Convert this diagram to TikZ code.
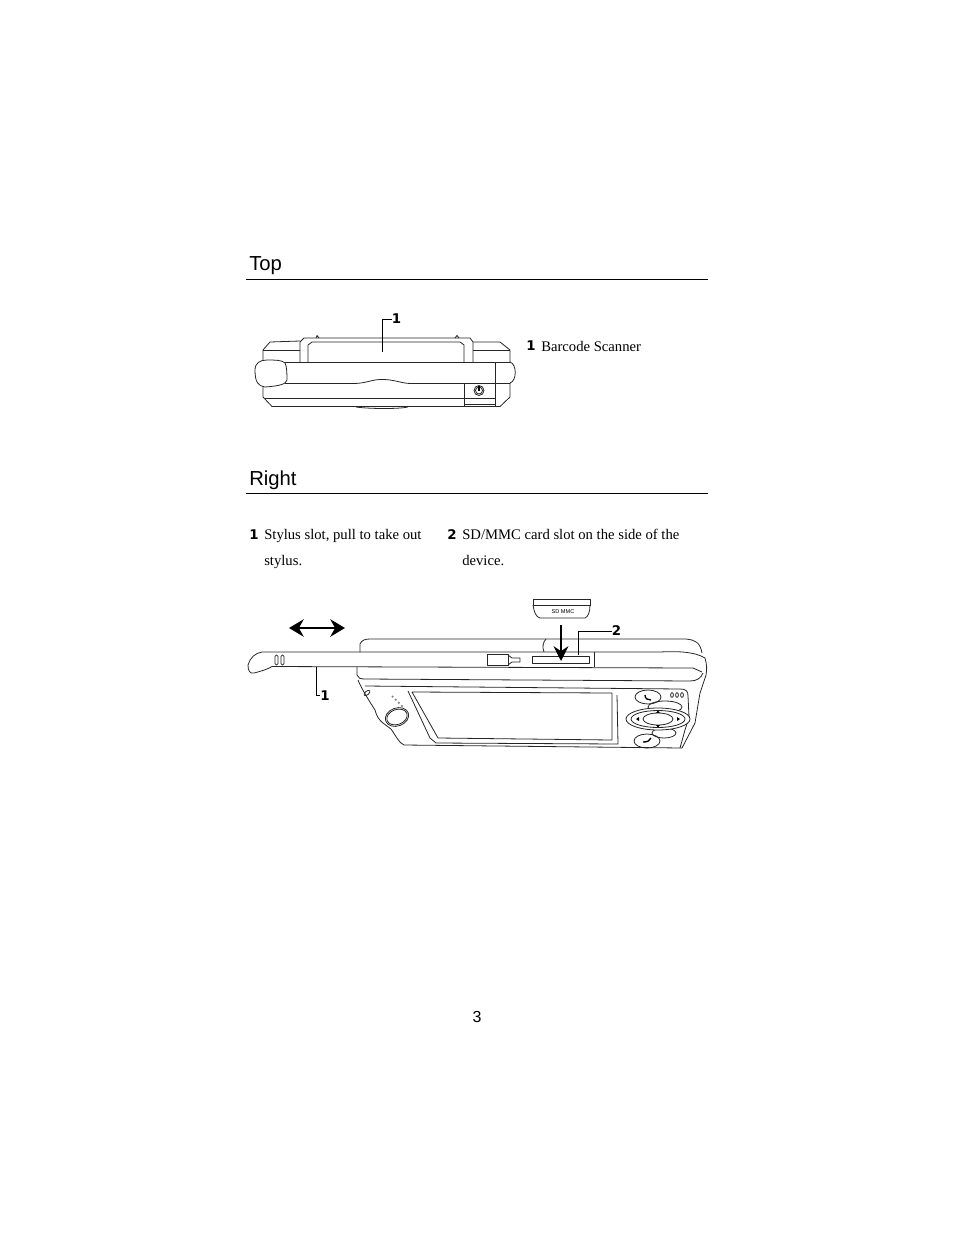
\documentclass[tikz,border=0pt]{standalone}
\usepackage{fontspec}
\setmainfont{Liberation Serif}
\setsansfont{Liberation Sans}
\newfontfamily\tagfont{DejaVu Sans}
\usetikzlibrary{arrows.meta}
\tikzset{
  heading/.style={anchor=base west,inner sep=0pt,font=\sffamily\fontsize{15.2}{16}\selectfont},
  bodytext/.style={anchor=base west,inner sep=0pt,font=\fontsize{11}{13}\selectfont},
  numtag/.style={inner sep=0pt,font=\tagfont\bfseries\fontsize{10}{12}\selectfont},
  devline/.style={line width=0.6pt,line join=round,black!85},
  leader/.style={line width=0.6pt},
  moveArrow/.style={line width=2pt,{Stealth[length=11pt,width=13pt]}-{Stealth[length=11pt,width=13pt]}}
}
\begin{document}
\begin{tikzpicture}[x=0.75pt,y=-0.75pt]
\useasboundingbox (0,0) rectangle (954,1235);
% HEADINGS AND RULES
\node [heading] (top) at (249,270.5) {Top};
\draw [line width=0.6pt] (246,279.5) -- (708,279.5);
\node [heading] (right) at (249,485) {Right};
\draw [line width=0.6pt] (246,493.5) -- (708,493.5);
% TOP VIEW: BACK OF BODY
\draw [devline] (263,362) -- (263,350) -- (270,342) -- (300,341);
\draw [devline] (263,350) -- (300,350);
\draw [devline] (473,342) -- (500,342) -- (510,350) -- (510,362);
\draw [devline] (473,350) -- (510,350);
% TOP VIEW: SCANNER
\draw [devline] (300,362) -- (300,342) -- (304,338) -- (470,338) -- (473,342) -- (473,362);
\draw [devline] (308,362) -- (308,345) -- (312,342) -- (460,342) -- (464,345) -- (464,362);
\draw [devline] (316,338) -- (317,335.5) -- (319,338);
\draw [devline] (455,338) -- (457,335.5) -- (459,338);
% TOP VIEW: STYLUS BAND
\draw [devline] (285,362) -- (510,362);
\draw [devline] (285,383.5) -- (355,383.5) .. controls (368,383) and (372,379) .. (384,379.5) .. controls (396,380) and (400,383) .. (410,383.5) -- (510,383.5);
\draw [devline,fill=white] (255,370) .. controls (255,363) and (260,360) .. (267,360) .. controls (275,360) and (282,360) .. (285,363) .. controls (287,366) and (287,376) .. (287,380) .. controls (286,384) and (280,386) .. (265,387) .. controls (258,386) and (255,382) .. (255,370) -- cycle;
\draw [devline] (495,362) -- (495,383);
\draw [devline] (510,362) .. controls (517,364) and (517,381) .. (510,383);
% TOP VIEW: LOWER BODY
\draw [devline] (263,386) -- (263,397) -- (272,406.5) -- (500,406.5) -- (510,397) -- (510,383);
\draw [devline] (265,398) -- (495,398);
\draw [devline] (356,407) .. controls (370,409) and (400,409) .. (408,407);
% TOP VIEW: POWER SWITCH
\draw [devline] (464,383.5) -- (464,406.5);
\draw [devline] (495,383.5) -- (495,406.5);
\draw [devline] (464,404) -- (495,404);
\draw [devline] (479,390.5) circle [radius=5];
\draw [devline] (479,390.5) circle [radius=3.5];
\draw [line width=0.8pt] (479,385.5) -- (479,390.5);
% TOP VIEW: CALLOUT
\coordinate (scanPt) at (382,352);
\node [numtag] (scanNum) at (396.5,319) {1};
\draw [leader] (scanPt) |- (scanNum.west);
\node [numtag] (scanTag) at (531,346) {1};
\node [bodytext] (scanText) at (541,351) {Barcode Scanner};
% RIGHT VIEW: TEXT
\node [numtag] (slotTag) at (254,535) {1};
\node [bodytext] (slotTextA) at (264,539) {Stylus slot, pull to take out};
\node [bodytext] (slotTextB) at (264,565) {stylus.};
\node [numtag] (cardTag) at (452,535) {2};
\node [bodytext] (cardTextA) at (462,539) {SD/MMC card slot on the side of the};
\node [bodytext] (cardTextB) at (462,565) {device.};
% RIGHT VIEW: STYLUS
\draw [devline] (360,652) -- (290,652) -- (262,652) .. controls (255,653) and (250,658) .. (248,665) .. controls (248,671) and (250,674) .. (254,673) .. controls (262,671) and (268,669) .. (272,666.5) -- (693,668);
\draw [devline] (360,652) -- (660,652) .. controls (680,651) and (695,652) .. (705,658);
\draw [devline,rounded corners=1pt] (275,655) rectangle (278,665);
\draw [devline,rounded corners=1pt] (281,655) rectangle (284,665);
\draw [devline] (487,654) rectangle (508,665);
\draw [devline] (508,655) -- (512,658) -- (520,658) -- (520,662) -- (512,662) -- (508,665);
% RIGHT VIEW: TOP OF BODY
\draw [devline] (360,652) -- (360,644) .. controls (362,640) and (365,639) .. (370,639) -- (686,639) .. controls (695,640) and (700,642) .. (702,653);
\draw [devline] (544,652) .. controls (542,647) and (543,642) .. (546,639);
\draw [devline] (532,656) rectangle (589,663);
\draw [devline] (594,652) -- (594,667);
\draw [devline] (693,668) -- (702,672);
% RIGHT VIEW: OUTLINE OF BODY
\draw [devline] (705,658) .. controls (707,665) and (707,670) .. (706,675) -- (700,693) -- (695,723) -- (682,748);
\draw [devline] (357,667) -- (357,675) .. controls (358,678) and (360,679) .. (365,679) -- (690,681) .. controls (697,681) and (701,678) .. (703,673);
\draw [devline] (358,680) .. controls (362,690) and (370,702) .. (375,710) .. controls (378,722) and (385,724) .. (391,729) .. controls (396,736) and (399,743) .. (404,745) -- (682,748);
% RIGHT VIEW: FRONT PANEL
\draw [devline] (365,686) -- (680,689) .. controls (686,689) and (688,691) .. (688,696) -- (689,717) -- (685,730) -- (680,748);
\draw [devline] (408,691) -- (430,738) -- (436,743) -- (618,744) -- (617,695);
\draw [devline] (412,692) -- (612,693) -- (612,740) -- (438,738) -- cycle;
\draw [devline] (397,717) ellipse [x radius=12,y radius=9,rotate=20];
\draw [devline] (397,717) ellipse [x radius=10.5,y radius=7.5,rotate=20];
\draw [devline] (367,693) ellipse [x radius=3.5,y radius=1.8,rotate=40];
\draw [line width=1.3pt,gray,dotted] (392,696) -- (404,708);
% RIGHT VIEW: BUTTONS
\draw [devline] (648,697) ellipse [x radius=13,y radius=7];
\draw [line width=1pt] (645,695) .. controls (645,699) and (648,700) .. (651,700);
\draw [devline] (647,741) ellipse [x radius=13,y radius=7];
\draw [line width=1pt] (643,742) .. controls (647,742) and (650,741) .. (651,738);
\foreach \dotx in {672,677,682}
  \draw [devline] (\dotx,695) ellipse [x radius=1.4,y radius=2.4];
\draw [devline] (665,707) ellipse [x radius=17,y radius=6];
\draw [devline] (664,733) ellipse [x radius=12,y radius=5];
\draw [devline,fill=white] (658,719) ellipse [x radius=32,y radius=11];
\draw [devline] (658,719) ellipse [x radius=27,y radius=8.5];
\draw [devline] (658,719) ellipse [x radius=15,y radius=6];
\fill (658,710.5) -- (656,713) -- (660,713) -- cycle;
\fill (658,727.5) -- (656,725) -- (660,725) -- cycle;
\fill (636,719) -- (639,717) -- (639,721) -- cycle;
\fill (680,719) -- (677,717) -- (677,721) -- cycle;
% RIGHT VIEW: CARD
\draw [devline] (533,605) -- (533,599) -- (590,599) -- (590,605) -- cycle;
\draw [devline] (533,605) .. controls (534,612) and (536,617) .. (540,618) -- (585,618) .. controls (588,617) and (590,612) .. (590,605);
\node [inner sep=0pt,font=\sffamily\fontsize{4.2}{5}\selectfont] (cardName) at (563,612) {SD MMC};
% ARROWS
\coordinate (pullL) at (289,628);
\coordinate (pullR) at (345,628);
\draw [moveArrow] (pullL) -- (pullR);
\coordinate (pushA) at (561,625);
\coordinate (pushB) at (561,661);
\draw [line width=2pt,-{Stealth[length=11pt,width=11pt]}] (pushA) -- (pushB);
% RIGHT VIEW: CALLOUTS
\coordinate (stylusPt) at (316,667);
\node [numtag] (stylusNum) at (325,695.5) {1};
\draw [leader] (stylusPt) |- (stylusNum.west);
\coordinate (slotPt) at (578,655);
\node [numtag] (slotNum) at (616.5,631) {2};
\draw [leader] (slotPt) |- (slotNum.west);
% PAGE NUMBER
\node [anchor=base,inner sep=0pt,font=\sffamily\fontsize{12}{14}\selectfont] (pageNum) at (477,1022) {3};
\end{tikzpicture}
\end{document}
